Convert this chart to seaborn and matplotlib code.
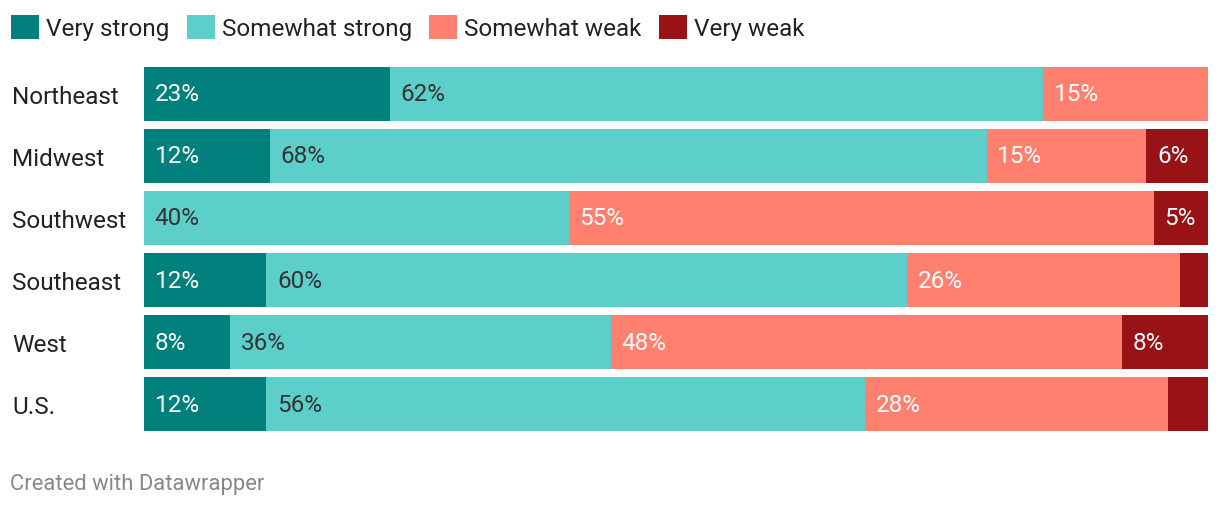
import numpy as np
import pandas as pd
import seaborn as sns
import matplotlib.pyplot as plt
from matplotlib.patches import Patch

regions = ["Northeast", "Midwest", "Southwest", "Southeast", "West", "U.S."]
levels = ["Very strong", "Somewhat strong", "Somewhat weak", "Very weak"]
colors = ["#00807c", "#5dcfca", "#ff806e", "#981216"]
text_colors = ["white", "#333333", "white", "white"]

# segment widths (percent of bar)
very_strong = [23.1, 11.8, 0.0, 11.5, 8.1, 11.5]
somewhat_strong = [61.4, 67.4, 39.9, 60.2, 35.8, 56.3]
somewhat_weak = [15.5, 15.0, 55.0, 25.7, 48.0, 28.4]
very_weak = [0.0, 5.8, 5.1, 2.6, 8.1, 3.8]

# printed labels
very_strong_lbl = ["23%", "12%", "", "12%", "8%", "12%"]
somewhat_strong_lbl = ["62%", "68%", "40%", "60%", "36%", "56%"]
somewhat_weak_lbl = ["15%", "15%", "55%", "26%", "48%", "28%"]
very_weak_lbl = ["", "6%", "5%", "", "8%", ""]

sns.set_theme(style="white")
plt.rcParams["font.family"] = ["Roboto", "DejaVu Sans"]

df = pd.DataFrame({"region": regions})
series = [very_strong, somewhat_strong, somewhat_weak, very_weak]
labels = [very_strong_lbl, somewhat_strong_lbl, somewhat_weak_lbl, very_weak_lbl]
cum = np.cumsum(np.array(series), axis=0)

fig = plt.figure(figsize=(12.2, 5.1), dpi=100)
ax = fig.add_axes([144 / 1220, 1 - 432 / 510, 1064 / 1220, 364 / 510])

# stacked look: draw cumulative totals from the right-most segment back
for i in range(3, -1, -1):
    df["val"] = cum[i]
    sns.barplot(data=df, x="val", y="region", orient="h", color=colors[i],
                saturation=1, width=0.87, linewidth=0, ax=ax)

for i in range(4):
    starts = cum[i] - np.array(series[i])
    for j, txt in enumerate(labels[i]):
        if txt:
            ax.text(starts[j] + 1.0, j, txt, color=text_colors[i], fontsize=17.5,
                    va="center", ha="left")

ax.set_xlim(0, 100)
ax.set_ylim(5.435, -0.435)
ax.set_xlabel("")
ax.set_ylabel("")
ax.set_xticks([])
sns.despine(ax=ax, left=True, bottom=True)
ax.tick_params(axis="y", length=0, pad=95, labelsize=17.5, labelcolor="#222222")
for lbl in ax.get_yticklabels():
    lbl.set_ha("left")

handles = [Patch(facecolor=c, edgecolor="none") for c in colors]
fig.legend(handles, levels, loc="upper left", bbox_to_anchor=(0.0, 0.99), ncol=4,
           frameon=False, fontsize=17.5, handlelength=1.15, handleheight=1.15,
           handletextpad=0.3, columnspacing=0.7, borderaxespad=0.05,
           labelcolor="#222222")

fig.text(10 / 1220, 1 - 485 / 510, "Created with Datawrapper", color="#888888",
         fontsize=15.8, va="center", ha="left")

fig.savefig("out.png", dpi=100)
